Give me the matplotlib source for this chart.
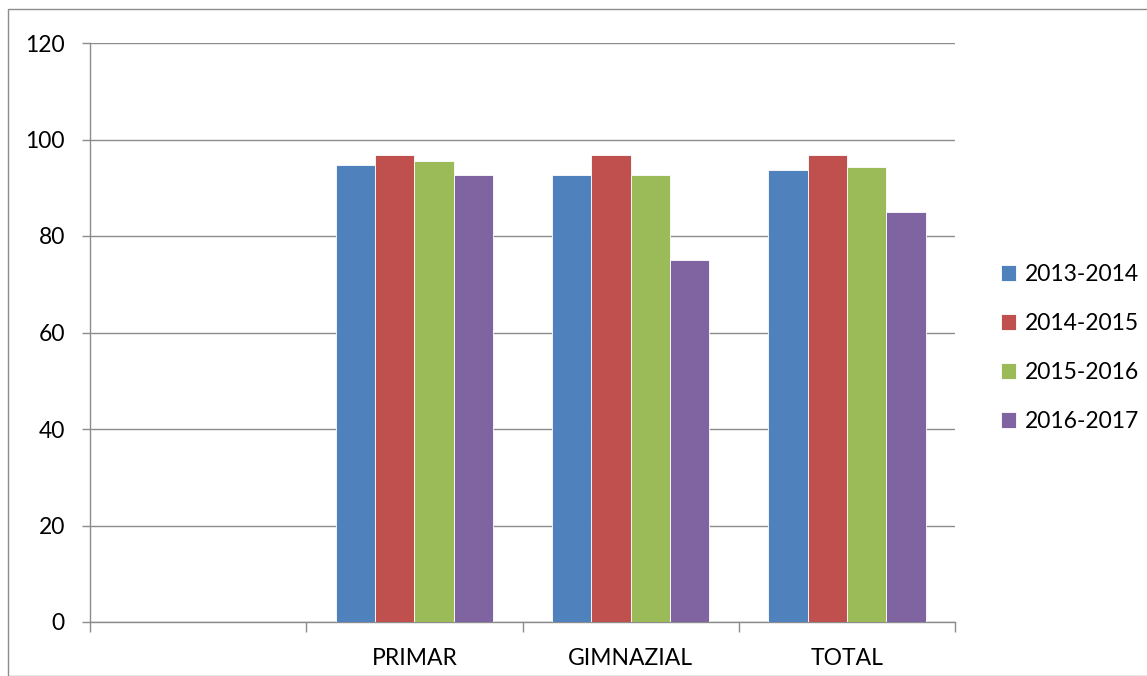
import numpy as np
import matplotlib.pyplot as plt
from matplotlib.patches import Rectangle

plt.rcParams['font.family'] = ['Lato', 'DejaVu Sans']

categories = ['', 'PRIMAR', 'GIMNAZIAL', 'TOTAL']
series = ['2013-2014', '2014-2015', '2015-2016', '2016-2017']
v_2013 = [np.nan, 94.8, 92.7, 93.7]
v_2014 = [np.nan, 96.8, 96.8, 96.8]
v_2015 = [np.nan, 95.6, 92.7, 94.2]
v_2016 = [np.nan, 92.7, 75.1, 85.0]
colors = ['#4F81BD', '#C0504D', '#9BBB59', '#8064A2']

W, H = 1147, 676
fs = 16.5
fig = plt.figure(figsize=(W / 100, H / 100), dpi=100)
ax = fig.add_axes([90 / W, 1 - 622 / H, (955 - 90) / W, (622 - 43) / H])

x = np.arange(len(categories))
bw = 1 / 5.5
for i, (vals, col) in enumerate(zip([v_2013, v_2014, v_2015, v_2016], colors)):
    ax.bar(x + (i - 1.5) * bw, vals, width=bw, color=col, edgecolor='white',
           linewidth=0.6, label=series[i], zorder=3)

ax.set_xlim(-0.5, len(categories) - 0.5)
ax.set_ylim(0, 120)
ax.set_yticks(range(0, 121, 20))
ax.yaxis.grid(True, color='#8c8c8c', linewidth=1)
ax.set_axisbelow(True)

ax.set_xticks(x)
ax.set_xticklabels(categories, fontsize=fs)
ax.tick_params(axis='x', length=0, pad=19)
ax.set_xticks(np.arange(-0.5, len(categories)), minor=True)
ax.tick_params(axis='x', which='minor', length=7, color='#8c8c8c', width=1)
ax.tick_params(axis='y', length=6, color='#8c8c8c', width=1, labelsize=fs, pad=12)

for s in ['top', 'right']:
    ax.spines[s].set_visible(False)
for s in ['left', 'bottom']:
    ax.spines[s].set_color('#8c8c8c')
    ax.spines[s].set_linewidth(1)

leg = ax.legend(loc='center left', bbox_to_anchor=(990 / W, 1 - 348 / H),
                bbox_transform=fig.transFigure, frameon=False, fontsize=fs,
                handlelength=0.65, handleheight=0.65, handletextpad=0.35,
                labelspacing=1.22, borderpad=0)

fig.patches.append(Rectangle((8 / W, 0), 1.2, 1 - 9 / H, transform=fig.transFigure,
                             fill=False, edgecolor='#8c8c8c', linewidth=1))

fig.savefig('out.png', dpi=100, facecolor='white')
